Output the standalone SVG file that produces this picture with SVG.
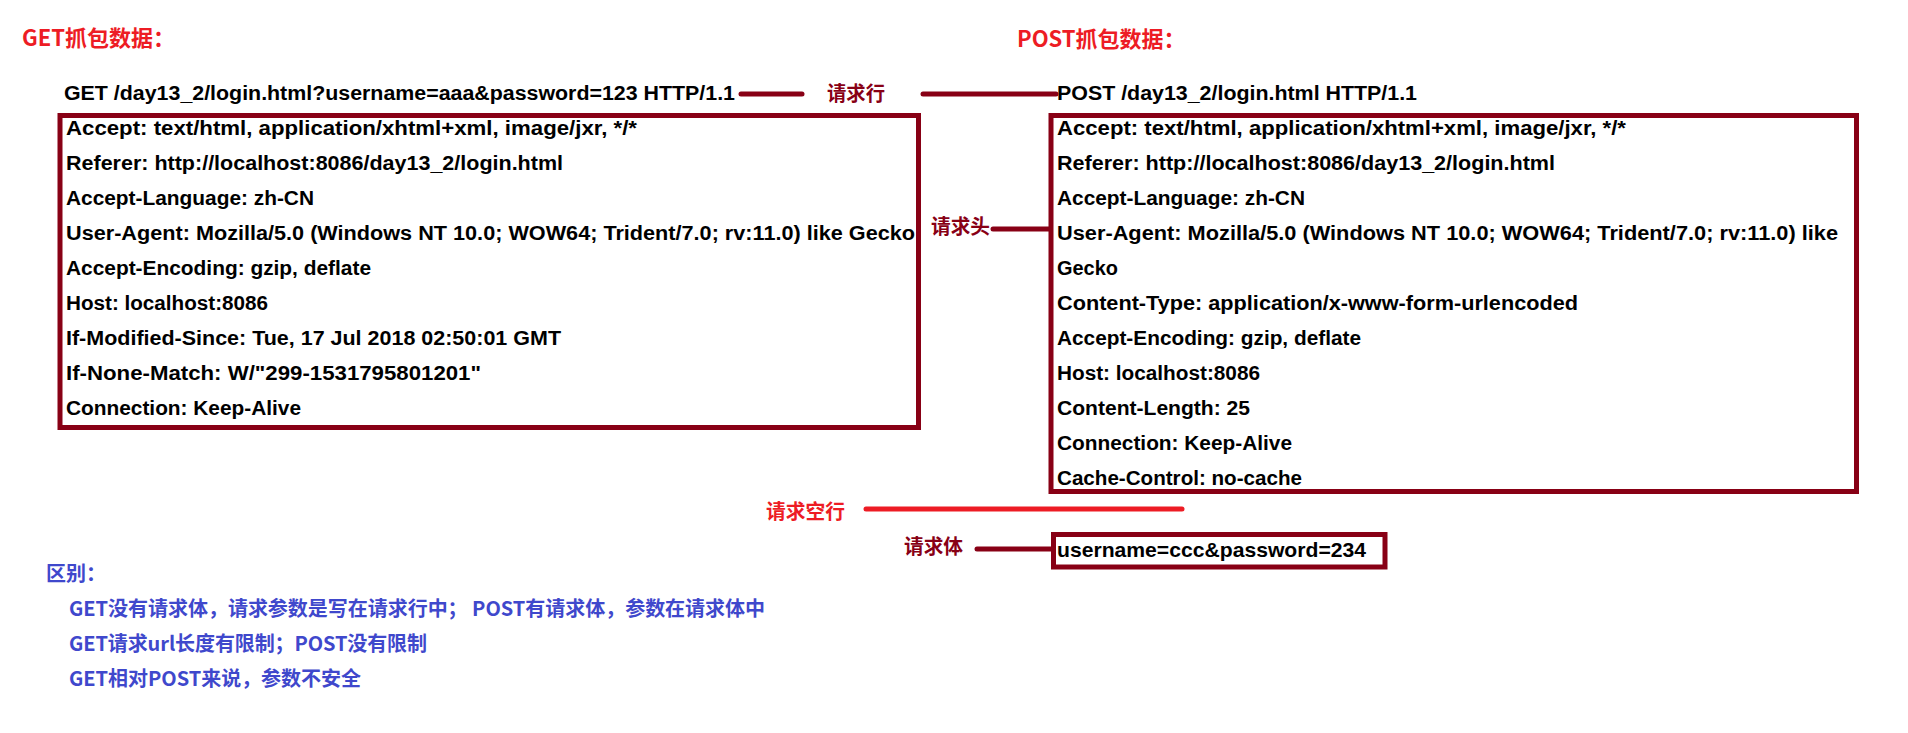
<svg xmlns="http://www.w3.org/2000/svg" width="1908" height="733" viewBox="0 0 1908 733">
<style>
.bg{fill:#ffffff}
.t{font-family:"Liberation Sans","Noto Sans CJK SC",sans-serif;font-weight:bold;font-size:20px;fill:#000000}
.cj{font-family:"Noto Sans CJK SC","Noto Sans",sans-serif;font-weight:bold;font-size:20px}
.red{fill:#ED1C24}
.dred{fill:#880015}
.blue{fill:#3F48CC}
.box{fill:none;stroke:#880015;stroke-width:5}
.conn{fill:none;stroke:#880015;stroke-width:5;stroke-linecap:round}
.conn-red{fill:none;stroke:#ED1C24;stroke-width:5;stroke-linecap:round}
</style>
<rect class="bg" x="0" y="0" width="1908" height="733"/>

<g id="title-get"><text class="cj red" x="22" y="46" font-size="22" style="font-size:22px">GET抓包数据：</text></g>
<g id="title-post"><text class="cj red" x="1017" y="47" style="font-size:22px">POST抓包数据：</text></g>

<g id="get-request-line"><text class="t" x="64" y="100" textLength="671" lengthAdjust="spacingAndGlyphs">GET /day13_2/login.html?username=aaa&amp;password=123 HTTP/1.1</text></g>
<g id="post-request-line"><text class="t" x="1057" y="100" textLength="360" lengthAdjust="spacingAndGlyphs">POST /day13_2/login.html HTTP/1.1</text></g>

<g id="get-headers">
<rect class="box" x="60" y="115.5" width="858.5" height="312"/>
<text class="t" x="66" y="135" textLength="571" lengthAdjust="spacingAndGlyphs">Accept: text/html, application/xhtml+xml, image/jxr, */*</text>
<text class="t" x="66" y="170" textLength="497" lengthAdjust="spacingAndGlyphs">Referer: http://localhost:8086/day13_2/login.html</text>
<text class="t" x="66" y="205" textLength="248" lengthAdjust="spacingAndGlyphs">Accept-Language: zh-CN</text>
<text class="t" x="66" y="240" textLength="849" lengthAdjust="spacingAndGlyphs">User-Agent: Mozilla/5.0 (Windows NT 10.0; WOW64; Trident/7.0; rv:11.0) like Gecko</text>
<text class="t" x="66" y="275" textLength="305" lengthAdjust="spacingAndGlyphs">Accept-Encoding: gzip, deflate</text>
<text class="t" x="66" y="310" textLength="202" lengthAdjust="spacingAndGlyphs">Host: localhost:8086</text>
<text class="t" x="66" y="345" textLength="495" lengthAdjust="spacingAndGlyphs">If-Modified-Since: Tue, 17 Jul 2018 02:50:01 GMT</text>
<text class="t" x="66" y="380" textLength="415" lengthAdjust="spacingAndGlyphs">If-None-Match: W/"299-1531795801201"</text>
<text class="t" x="66" y="415" textLength="235" lengthAdjust="spacingAndGlyphs">Connection: Keep-Alive</text>
</g>

<g id="post-headers">
<rect class="box" x="1051" y="115.5" width="805.5" height="376"/>
<text class="t" x="1057" y="135" textLength="569" lengthAdjust="spacingAndGlyphs">Accept: text/html, application/xhtml+xml, image/jxr, */*</text>
<text class="t" x="1057" y="170" textLength="498" lengthAdjust="spacingAndGlyphs">Referer: http://localhost:8086/day13_2/login.html</text>
<text class="t" x="1057" y="205" textLength="248" lengthAdjust="spacingAndGlyphs">Accept-Language: zh-CN</text>
<text class="t" x="1057" y="240" textLength="781" lengthAdjust="spacingAndGlyphs">User-Agent: Mozilla/5.0 (Windows NT 10.0; WOW64; Trident/7.0; rv:11.0) like</text>
<text class="t" x="1057" y="275" textLength="61" lengthAdjust="spacingAndGlyphs">Gecko</text>
<text class="t" x="1057" y="310" textLength="521" lengthAdjust="spacingAndGlyphs">Content-Type: application/x-www-form-urlencoded</text>
<text class="t" x="1057" y="345" textLength="304" lengthAdjust="spacingAndGlyphs">Accept-Encoding: gzip, deflate</text>
<text class="t" x="1057" y="380" textLength="203" lengthAdjust="spacingAndGlyphs">Host: localhost:8086</text>
<text class="t" x="1057" y="415" textLength="193" lengthAdjust="spacingAndGlyphs">Content-Length: 25</text>
<text class="t" x="1057" y="450" textLength="235" lengthAdjust="spacingAndGlyphs">Connection: Keep-Alive</text>
<text class="t" x="1057" y="485" textLength="245" lengthAdjust="spacingAndGlyphs">Cache-Control: no-cache</text>
</g>

<g id="post-body">
<rect class="box" x="1053.5" y="534.5" width="331.5" height="32.5"/>
<text class="t" x="1057" y="557" style="font-size:21px" textLength="309" lengthAdjust="spacingAndGlyphs">username=ccc&amp;password=234</text>
</g>

<g id="label-request-line"><text class="cj dred" x="827" y="101" textLength="58" lengthAdjust="spacingAndGlyphs">请求行</text></g>
<g id="label-request-header"><text class="cj dred" x="931" y="234" textLength="59" lengthAdjust="spacingAndGlyphs">请求头</text></g>
<g id="label-blank-line"><text class="cj red" x="766" y="519" textLength="79" lengthAdjust="spacingAndGlyphs">请求空行</text></g>
<g id="label-request-body"><text class="cj dred" x="904" y="554" textLength="59" lengthAdjust="spacingAndGlyphs">请求体</text></g>

<g id="connectors">
<line class="conn" x1="741" y1="94" x2="802" y2="94"/>
<line class="conn" x1="923" y1="94" x2="1056" y2="94"/>
<line class="conn" x1="993" y1="229" x2="1049" y2="229"/>
<line class="conn-red" x1="866" y1="509" x2="1182" y2="509"/>
<line class="conn" x1="977" y1="549" x2="1053" y2="549"/>
</g>

<g id="differences">
<text class="cj blue" x="46" y="581">区别：</text>
<text class="cj blue" x="69" y="616" textLength="696" lengthAdjust="spacing">GET没有请求体，请求参数是写在请求行中； POST有请求体，参数在请求体中</text>
<text class="cj blue" x="69" y="651" textLength="358" lengthAdjust="spacing">GET请求url长度有限制；POST没有限制</text>
<text class="cj blue" x="69" y="686" textLength="292" lengthAdjust="spacing">GET相对POST来说，参数不安全</text>
</g>
</svg>
